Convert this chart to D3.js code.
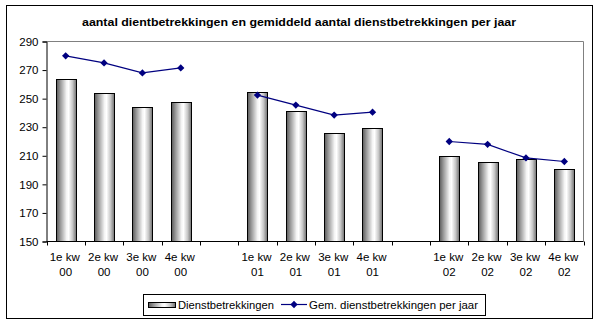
<!DOCTYPE html>
<html><head><meta charset="utf-8">
<script src="https://cdn.jsdelivr.net/npm/d3@7"></script>
<style>body{margin:0;background:#fff}svg{display:block;font-family:"Liberation Sans",Arial,sans-serif}</style>
</head><body><svg id="c" width="600" height="325"></svg>
<script>
const title = "aantal dientbetrekkingen en gemiddeld aantal dienstbetrekkingen per jaar";
const quarterLabels = ["1e kw","2e kw","3e kw","4e kw","","1e kw","2e kw","3e kw","4e kw","","1e kw","2e kw","3e kw","4e kw"];
const yearLabels = ["00","00","00","00","","01","01","01","01","","02","02","02","02"];
const barValues = [264,254,244,248,null,255,241.5,226,229.5,null,210,206,208,201];
const lineValues = [280,275,268,271.5,null,252.5,245.5,238.5,240.5,null,220,218,208.5,206];
const yTicks = [150,170,190,210,230,250,270,290];
const seriesNames = ["Dienstbetrekkingen","Gem. dienstbetrekkingen per jaar"];

const svg = d3.select("#c");
const L = 46.5, R = 583.5, T = 41.5, B = 241.5;
const defs = svg.append("defs");
const g = defs.append("linearGradient").attr("id","bg").attr("x1","0").attr("x2","1").attr("y1","0").attr("y2","0");
[[0,"#5a5a5a"],[0.2,"#9a9a9a"],[0.5,"#f4f4f4"],[0.6,"#ffffff"],[0.8,"#c8c8c8"],[1,"#6e6e6e"]].forEach(([o,c])=>g.append("stop").attr("offset",o).attr("stop-color",c));

// outer border
svg.append("rect").attr("x",6.5).attr("y",5.5).attr("width",586).attr("height",313).attr("fill","none").attr("stroke","#000");

svg.append("text").attr("x",299).attr("y",26).attr("text-anchor","middle").attr("font-size",11).attr("font-weight","bold")
  .attr("textLength",434).attr("lengthAdjust","spacingAndGlyphs").text(title);

const idx = d3.range(quarterLabels.length);
const x = d3.scaleBand().domain(idx).range([L,R]).padding(0);
const y = d3.scaleLinear().domain([150,290]).range([B,T]);
const bw = x.bandwidth()/1.9;

// plot area border (gray top/right)
svg.append("path").attr("d",`M${L},${T}H${R}V${B}`).attr("fill","none").attr("stroke","#808080");

// bars
svg.append("g").selectAll("rect").data(idx.filter(i=>barValues[i]!=null)).join("rect")
  .attr("x",i=>Math.round(x(i)+x.bandwidth()/2-bw/2)+0.5).attr("width",Math.round(bw))
  .attr("y",i=>Math.round(y(barValues[i]))+0.5).attr("height",i=>B-Math.round(y(barValues[i]))-0.5)
  .attr("fill","url(#bg)").attr("stroke","#000");

// line
const line = d3.line().defined(i=>lineValues[i]!=null).x(i=>x(i)+x.bandwidth()/2).y(i=>y(lineValues[i]));
svg.append("path").attr("d",line(idx)).attr("fill","none").attr("stroke","#000080").attr("stroke-width",1.2);
const diamond = d3.symbol().type(d3.symbolDiamond2).size(34);
svg.append("g").selectAll("path").data(idx.filter(i=>lineValues[i]!=null)).join("path")
  .attr("transform",i=>`translate(${x(i)+x.bandwidth()/2},${y(lineValues[i])})`).attr("d",diamond).attr("fill","#000080");

// y axis
const ya = svg.append("g").attr("transform",`translate(${L},0)`).call(d3.axisLeft(y).tickValues(yTicks).tickSize(4).tickPadding(4));
ya.select(".domain").attr("stroke","#000");
ya.selectAll("text").attr("font-size",11.5).attr("fill","#000").attr("font-family","Liberation Sans, Arial");
ya.selectAll(".tick line").attr("stroke","#000");

// x axis line + ticks at boundaries
svg.append("line").attr("x1",L).attr("x2",R).attr("y1",B).attr("y2",B).attr("stroke","#000");
svg.append("g").selectAll("line").data(d3.range(quarterLabels.length+1)).join("line")
  .attr("x1",i=>Math.round(L+i*x.bandwidth())+0.5).attr("x2",i=>Math.round(L+i*x.bandwidth())+0.5)
  .attr("y1",B).attr("y2",B+4).attr("stroke","#000");
const xl = svg.append("g").selectAll("g").data(idx.filter(i=>quarterLabels[i])).join("g");
xl.append("text").attr("x",i=>x(i)+x.bandwidth()/2-1).attr("y",261).attr("text-anchor","middle").attr("font-size",11.5).text(i=>quarterLabels[i]);
xl.append("text").attr("x",i=>x(i)+x.bandwidth()/2).attr("y",276).attr("text-anchor","middle").attr("font-size",11.5).text(i=>yearLabels[i]);

// legend
svg.append("rect").attr("x",143.5).attr("y",294.5).attr("width",342).attr("height",21).attr("fill","#fff").attr("stroke","#000");
svg.append("rect").attr("x",148.5).attr("y",302.5).attr("width",27).attr("height",5).attr("fill","url(#bg)").attr("stroke","#000");
svg.append("text").attr("x",178).attr("y",309).attr("font-size",11.5).attr("textLength",96).attr("lengthAdjust","spacingAndGlyphs").text(seriesNames[0]);
svg.append("line").attr("x1",281).attr("x2",307).attr("y1",304.5).attr("y2",304.5).attr("stroke","#000080").attr("stroke-width",1.2);
svg.append("path").attr("transform","translate(294,304.5)").attr("d",diamond).attr("fill","#000080");
svg.append("text").attr("x",309).attr("y",309).attr("font-size",11.5).attr("textLength",169).attr("lengthAdjust","spacingAndGlyphs").text(seriesNames[1]);
</script></body></html>
